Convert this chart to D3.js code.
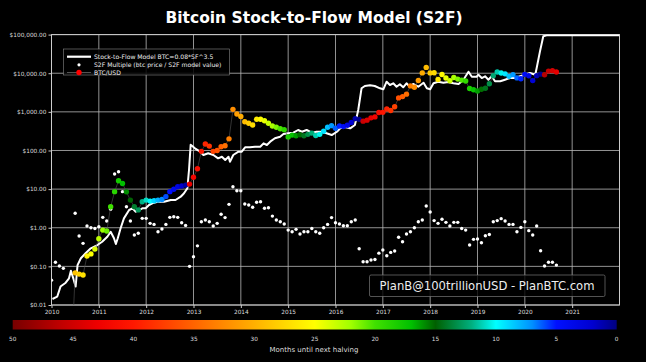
<!DOCTYPE html>
<html><head><meta charset="utf-8">
<script src="https://cdn.jsdelivr.net/npm/d3@7/dist/d3.min.js"></script>
<style>body{margin:0;background:#000}svg{display:block;font-family:"DejaVu Sans",sans-serif}</style>
</head><body><svg id="c" width="646" height="362"></svg>
<script>
// ---------- data ----------
const halvingDates = [2012.91, 2016.52, 2020.36, 2024.30];
const seriesStart = 2010; // monthly values, Jan 2010 onward
const btcPrice = [
  0.00063, 0.0021, 0.0031, 0.0034, 0.0004, 0.0003, 0.068, 0.063, 0.06, 0.185, 0.21, 0.28,
  0.52, 0.87, 0.82, 3.5, 8.6, 16.5, 14, 8.5, 5.2, 3.5, 2.9, 4.7,
  5.2, 4.9, 5.0, 5.2, 5.4, 6.4, 8.6, 9.9, 11.5, 12.0, 12.7, 13.5,
  20.2, 33.7, 95, 147, 130, 95, 100, 125, 133, 200, 1160, 880,
  760, 556, 505, 457, 641, 641, 590, 505, 430, 398, 365, 345,
  225, 250, 240, 255, 240, 262, 282, 245, 262, 315, 400, 440,
  375, 430, 415, 450, 530, 670, 640, 575, 610, 700, 740, 960,
  970, 1190, 1080, 1350, 2300, 2480, 2870, 4700, 4340, 6470, 10200, 14150,
  10200, 10300, 6900, 9240, 7500, 6400, 7730, 7040, 6630, 6300, 4020, 3740,
  3460, 3850, 4100, 5350, 8570, 10800, 10100, 9630, 8300, 9200, 7570, 7200,
  9350, 8600, 6440, 8660, 9460, 9140, 11350, 11650, 10780
];
const s2fMultiple = [
  0.044, 0.128, 0.102, 0.089, null, null, 2.37, 0.61, 0.395, 1.11, 1.0, 0.96,
  1.06, 1.86, 1.5, 3.0, 24.6, 28.2, 8.6, 3.5, 1.5, 0.65, 0.72, 1.75,
  1.75, 1.3, 1.22, 0.79, 0.93, 1.22, 1.86, 1.93, 1.86, 1.35, 1.15, 0.1,
  0.178, 0.34, 1.43, 1.58, 1.43, 1.11, 1.30, 2.24, 1.83, 4.03, 11.5, 9.1,
  9.1, 4.1, 3.88, 3.38, 4.55, 4.72, 3.19, 3.3, 2.0, 1.58, 1.43, 1.25,
  0.87, 0.79, 0.91, 0.69, 0.79, 0.79, 0.96, 0.79, 0.72, 1.0, 1.22, 1.83,
  1.35, 1.25, 1.13, 1.13, 1.43, 1.58, 0.285, 0.132, 0.132, 0.146, 0.15, 0.22,
  0.265, 0.188, 0.23, 0.25, 0.567, 0.435, 0.69, 0.79, 1.0, 1.43, 1.58, 3.66,
  2.55, 1.53, 1.30, 1.66, 1.38, 1.11, 1.38, 1.38, 0.96, 0.87, 0.357, 0.50,
  0.51, 0.41, 0.62, 0.67, 1.43, 1.53, 1.72, 1.49, 1.22, 1.22, 0.79, 1.02,
  1.43, 0.84, 0.65, 1.11, 0.254, 0.102, 0.128, 0.128, 0.108
];
const modelDates = [
  2010.02, 2010.12, 2010.19, 2010.30, 2010.37, 2010.41, 2010.46, 2010.51, 2010.55, 2010.62,
  2010.72, 2010.83, 2010.97, 2011.07, 2011.18, 2011.25, 2011.32, 2011.36, 2011.40, 2011.46,
  2011.53, 2011.64, 2011.71, 2011.78, 2011.85, 2011.92, 2011.99, 2012.06, 2012.13, 2012.24,
  2012.38, 2012.52, 2012.62, 2012.73, 2012.80, 2012.87, 2012.905, 2012.94, 2013.03, 2013.14,
  2013.21, 2013.31, 2013.42, 2013.52, 2013.60, 2013.67, 2013.74, 2013.77, 2013.84, 2013.95,
  2014.02, 2014.09, 2014.19, 2014.30, 2014.41, 2014.48, 2014.55, 2014.62, 2014.72, 2014.83,
  2014.90, 2015.00, 2015.11, 2015.21, 2015.29, 2015.39, 2015.50, 2015.60, 2015.71, 2015.81,
  2015.92, 2016.03, 2016.10, 2016.20, 2016.31, 2016.41, 2016.48, 2016.55, 2016.62, 2016.73,
  2016.83, 2016.94, 2017.01, 2017.08, 2017.15, 2017.22, 2017.29, 2017.36, 2017.43, 2017.50,
  2017.57, 2017.64, 2017.75, 2017.86, 2017.93, 2018.00, 2018.07, 2018.17, 2018.28, 2018.38,
  2018.49, 2018.60, 2018.70, 2018.81, 2018.88, 2018.98, 2019.02, 2019.09, 2019.16, 2019.23,
  2019.30, 2019.37, 2019.48, 2019.58, 2019.69, 2019.79, 2019.90, 2020.00, 2020.11, 2020.22,
  2020.25, 2020.32, 2020.39, 2020.46, 2022.0
];
const modelValues = [
  0.0143, 0.0164, 0.030, 0.0378, 0.049, 0.077, 0.049, 0.030, 0.108, 0.162,
  0.218, 0.294, 0.357, 0.435, 0.586, 0.789, 0.533, 0.379, 0.533, 0.967,
  1.75, 2.88, 3.19, 2.60, 2.88, 3.19, 3.19, 3.88, 4.29, 4.72,
  4.72, 5.23, 5.23, 6.36, 7.79, 10.5, 31.2, 140, 113.8, 93,
  76.4, 84.5, 76.4, 62.7, 69, 56.7, 69, 51.3, 76.4, 93,
  93, 120.8, 120.8, 125, 125, 153, 138.7, 169, 207, 227,
  267, 279, 288, 339, 306, 339, 288, 306, 306, 279,
  251, 306, 375, 405, 375, 457, 1117, 4074, 4670, 4866,
  4670, 4074, 3837, 6030, 4955, 5480, 4477, 5166, 4325, 5480,
  4477, 5260, 4477, 5690, 4074, 3837, 5480, 6030, 5690, 5930,
  5480, 5260, 6683, 10950, 8130, 8130, 9160, 7516, 8320, 6792,
  8320, 6180, 6180, 6792, 7516, 7516, 8320, 9160, 10140, 9160,
  13650, 36900, 90300, 95600, 95600
];
const yTicks = [0.01, 0.1, 1, 10, 100, 1000, 10000, 100000];
const xTicks = [2010, 2011, 2012, 2013, 2014, 2015, 2016, 2017, 2018, 2019, 2020, 2021];
const colorTicks = [50, 45, 40, 35, 30, 25, 20, 15, 10, 5, 0];
const colorStops = [50, 46, 43, 40, 35, 30, 25, 22, 20, 17, 15, 12, 10, 7, 5, 2, 0];
const colorHex = ["#780000", "#c00000", "#ee0000", "#ff1800", "#ff6400", "#ffb000", "#ffff00",
  "#a0ff00", "#40e000", "#00c000", "#006000", "#00b080", "#00ffff", "#0090ff", "#0010ff", "#0000d0", "#000080"];

// ---------- drawing ----------
const svg = d3.select("#c");
svg.append("rect").attr("width", 646).attr("height", 362).attr("fill", "#000");

const x = d3.scaleLinear().domain([2010, 2022]).range([51.5, 619.5]);
const y = d3.scaleLog().domain([0.01, 100000]).range([305, 34.6]);
const cmap = d3.scaleLinear().domain(colorStops).range(colorHex).clamp(true);

const months = btcPrice.map((p, i) => {
  const t = seriesStart + i / 12;
  const next = halvingDates.find(h => h > t);
  return {t, p, m: (next - t) * 12, mult: s2fMultiple[i]};
});

// title
svg.append("text").attr("x", 314).attr("y", 23).attr("text-anchor", "middle")
  .attr("fill", "#fff").attr("font-weight", "bold").attr("font-size", 15.5)
  .text("Bitcoin Stock-to-Flow Model (S2F)");

// grid
const grid = svg.append("g").attr("stroke", "#b8b8b8").attr("stroke-width", 0.8);
grid.selectAll(".gx").data(xTicks).join("line")
  .attr("x1", d => x(d)).attr("x2", d => x(d)).attr("y1", y(100000)).attr("y2", y(0.01));
grid.selectAll(".gy").data(yTicks).join("line")
  .attr("y1", d => y(d)).attr("y2", d => y(d)).attr("x1", x(2010)).attr("x2", x(2022));

// axes
const yAxis = svg.append("g").attr("transform", `translate(${x(2010)},0)`)
  .call(d3.axisLeft(y).tickValues(yTicks).tickSize(3).tickPadding(2)
    .tickFormat(d => "$" + d3.format(",.2f")(d)));
const xAxis = svg.append("g").attr("transform", `translate(0,${y(0.01)})`)
  .call(d3.axisBottom(x).tickValues(xTicks).tickSize(3).tickPadding(2).tickFormat(d3.format("d")));
[yAxis, xAxis].forEach(a => {
  a.select(".domain").remove();
  a.selectAll("line").attr("stroke", "#ccc");
  a.selectAll("text").attr("fill", "#ddd").attr("font-size", 5.8).attr("font-family", "DejaVu Sans");
});

// frame
svg.append("rect").attr("x", x(2010)).attr("y", y(100000))
  .attr("width", x(2022) - x(2010)).attr("height", y(0.01) - y(100000))
  .attr("fill", "none").attr("stroke", "#ccc").attr("stroke-width", 1);

svg.append("clipPath").attr("id", "clip").append("rect")
  .attr("x", x(2010)).attr("y", y(100000))
  .attr("width", x(2022) - x(2010)).attr("height", y(0.01) - y(100000));
const plot = svg.append("g").attr("clip-path", "url(#clip)");

// model line
const modelData = modelDates.map((t, i) => ({t, v: modelValues[i]}));
plot.append("path").datum(modelData)
  .attr("fill", "none").attr("stroke", "#fff").attr("stroke-width", 2).attr("stroke-linejoin", "round")
  .attr("d", d3.line().x(d => x(d.t)).y(d => y(d.v)));

// multiples
plot.selectAll(".mult").data(months.filter(d => d.mult != null)).join("circle")
  .attr("cx", d => x(d.t)).attr("cy", d => y(d.mult)).attr("r", 1.7).attr("fill", "#fff");

// btc line + dots
plot.append("path").datum(months)
  .attr("fill", "none").attr("stroke", "#555").attr("stroke-width", 0.6)
  .attr("d", d3.line().x(d => x(d.t)).y(d => y(d.p)));
plot.selectAll(".btc").data(months).join("circle")
  .attr("cx", d => x(d.t)).attr("cy", d => y(d.p)).attr("r", 2.7).attr("fill", d => cmap(d.m));

// legend
const lg = svg.append("g");
lg.append("rect").attr("x", 63.5).attr("y", 49).attr("width", 166).attr("height", 26)
  .attr("fill", "#000").attr("fill-opacity", 0.85).attr("stroke", "#888").attr("stroke-width", 0.6);
lg.append("line").attr("x1", 67).attr("x2", 91).attr("y1", 56.7).attr("y2", 56.7)
  .attr("stroke", "#fff").attr("stroke-width", 2.2);
lg.append("circle").attr("cx", 79).attr("cy", 64.8).attr("r", 1.6).attr("fill", "#fff");
lg.append("line").attr("x1", 67).attr("x2", 91).attr("y1", 72.5).attr("y2", 72.5)
  .attr("stroke", "#888").attr("stroke-width", 0.6);
lg.append("circle").attr("cx", 79).attr("cy", 72.5).attr("r", 2.7).attr("fill", "#f00");
const legTexts = ["Stock-to-Flow Model BTC=0.08*SF^3.5", "S2F Multiple (btc price / S2F model value)", "BTC/USD"];
lg.selectAll(".lt").data(legTexts).join("text")
  .attr("x", 94).attr("y", (d, i) => 58.8 + i * 7.9).attr("fill", "#eee")
  .attr("font-size", 6.1).text(d => d);

// watermark
svg.append("rect").attr("x", 369.5).attr("y", 275).attr("width", 235.5).attr("height", 21.5).attr("rx", 1.5)
  .attr("fill", "#000").attr("fill-opacity", 0.8).attr("stroke", "#777").attr("stroke-width", 0.7);
svg.append("text").attr("x", 487).attr("y", 290).attr("text-anchor", "middle")
  .attr("fill", "#eee").attr("font-size", 11.6).text("PlanB@100trillionUSD - PlanBTC.com");

// colorbar
const cb = d3.scaleLinear().domain([50, 0]).range([12.7, 616.7]);
const grad = svg.append("defs").append("linearGradient").attr("id", "cbg");
grad.selectAll("stop").data(colorStops).join("stop")
  .attr("offset", d => (50 - d) / 50).attr("stop-color", d => cmap(d));
svg.append("rect").attr("x", cb(50)).attr("y", 320).attr("width", cb(0) - cb(50)).attr("height", 9.5)
  .attr("fill", "url(#cbg)");
svg.selectAll(".cbt").data(colorTicks).join("text")
  .attr("x", d => cb(d)).attr("y", 341).attr("text-anchor", "middle")
  .attr("fill", "#ddd").attr("font-size", 5.8).text(d => d);
svg.append("text").attr("x", 314).attr("y", 351.5).attr("text-anchor", "middle")
  .attr("fill", "#ddd").attr("font-size", 7).text("Months until next halving");
</script></body></html>
